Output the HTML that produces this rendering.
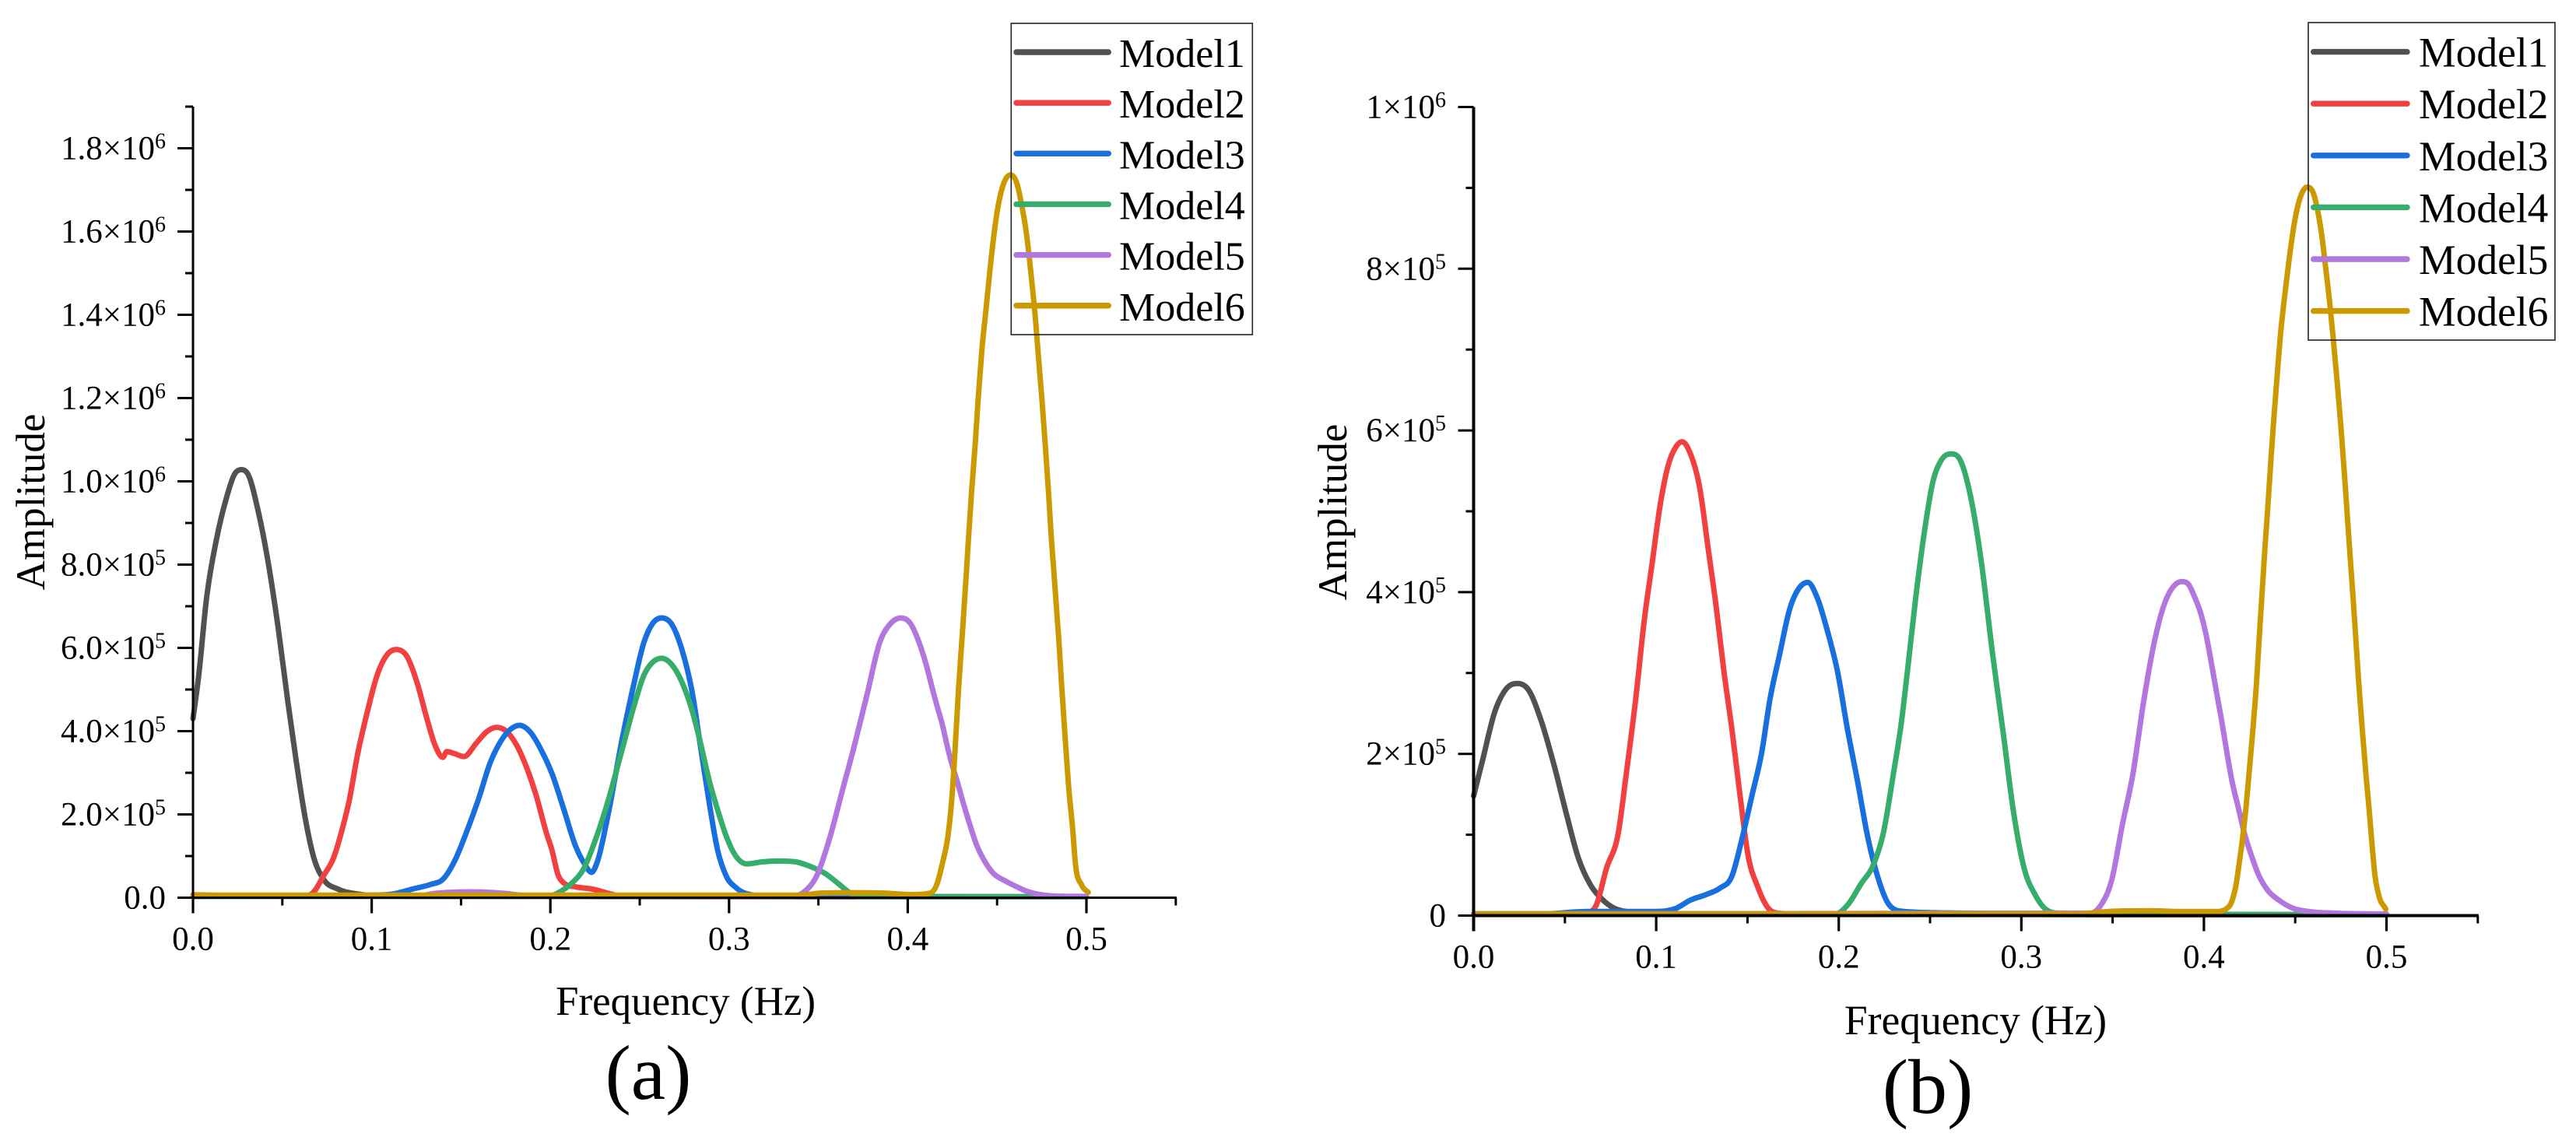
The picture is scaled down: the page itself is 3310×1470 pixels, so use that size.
<!DOCTYPE html>
<html lang="en">
<head>
<meta charset="utf-8">
<title>Frequency spectra of Model1–Model6</title>
<style>
html,body{margin:0;padding:0;background:#fff;}
svg{display:block;}
text{font-family:"Liberation Serif","Times New Roman",serif;fill:#000;}
</style>
</head>
<body>
<svg id="figure" xmlns="http://www.w3.org/2000/svg" width="3310" height="1470" viewBox="0 0 3310 1470">
  <rect x="0" y="0" width="3310" height="1470" fill="#fff"/>
  <g id="panel-a"></g>
  <g id="panel-b"></g>
  <text x="881" y="1304" font-size="53" text-anchor="middle">Frequency (Hz)</text>
  <text transform="translate(57,645) rotate(-90)" font-size="53" text-anchor="middle">Amplitude</text>
  <text x="833" y="1412" font-size="100" text-anchor="middle">(a)</text>
  <text x="2538.5" y="1329" font-size="53.5" text-anchor="middle">Frequency (Hz)</text>
  <text transform="translate(1730,658) rotate(-90)" font-size="53" text-anchor="middle">Amplitude</text>
  <text x="2477" y="1430" font-size="100" text-anchor="middle">(b)</text>
</svg>
<script>
/* Amplitudes are in units of 1e6; frequencies are in Hz. */
const seriesNames = ["Model1","Model2","Model3","Model4","Model5","Model6"];
const seriesColors = ["#515151","#F14040","#1A6FDF","#37AD6B","#B177DE","#CC9900"];

const xMajorTicks = [0,0.1,0.2,0.3,0.4,0.5];
const xMinorTicks = [0.05,0.15,0.25,0.35,0.45,0.55];
const xTickLabels = ["0.0","0.1","0.2","0.3","0.4","0.5"];

const yMajorTicksA = [0,0.2,0.4,0.6,0.8,1.0,1.2,1.4,1.6,1.8];
const yMinorTicksA = [0.1,0.3,0.5,0.7,0.9,1.1,1.3,1.5,1.7,1.9];
const yTickMantissaA = ["0.0","2.0","4.0","6.0","8.0","1.0","1.2","1.4","1.6","1.8"];
const yTickExponentA = ["","5","5","5","5","6","6","6","6","6"];

const yMajorTicksB = [0,0.2,0.4,0.6,0.8,1.0];
const yMinorTicksB = [0.1,0.3,0.5,0.7,0.9];
const yTickMantissaB = ["0","2","4","6","8","1"];
const yTickExponentB = ["","5","5","5","5","6"];

/* Panel (a) */
const freqA1 = [0,.0031,.0076,.0131,.0187,.0231,.0271,.0309,.0364,.042,.0476,.0531,.0576,.0631,.0676,.0731,.0809,.092,.0998,.13,.5];
const ampA1  = [.43,.53,.72,.86,.96,1.016,1.028,1.016,.93,.807,.65,.47,.333,.184,.096,.044,.021,.009,.005,.003,.002];

const freqA2 = [0,.03,.0631,.0676,.0731,.0787,.0831,.0876,.092,.0976,.1031,.1087,.1138,.1198,.1253,.1309,.1353,.1398,.142,.1464,.1516,.1587,.1642,.1698,.1753,.1809,.1864,.192,.1976,.2009,.2042,.2076,.2142,.2231,.232,.2409,.5];
const ampA2  = [.007,.004,.004,.014,.053,.096,.158,.237,.342,.447,.535,.584,.596,.579,.518,.43,.368,.337,.351,.346,.339,.372,.398,.409,.4,.368,.316,.246,.158,.114,.056,.035,.026,.021,.011,.003,.002];

const freqA3 = [0,.0476,.0998,.112,.1231,.1331,.1398,.1464,.1531,.1598,.1664,.172,.1776,.1827,.1887,.1953,.2009,.2076,.2142,.2187,.2231,.2264,.232,.2404,.2465,.2524,.2571,.2623,.2677,.2736,.2795,.2842,.2889,.2936,.2983,.3042,.3137,.3255,.5];
const ampA3  = [.003,.004,.006,.009,.021,.032,.044,.088,.158,.237,.325,.374,.404,.414,.398,.351,.298,.211,.123,.084,.061,.088,.193,.386,.509,.614,.658,.672,.658,.596,.49,.358,.228,.114,.053,.023,.006,.003,.002];

const freqA4 = [0,.1987,.2053,.212,.2187,.2253,.232,.2404,.2465,.2524,.2571,.2623,.2677,.2736,.2795,.2842,.2889,.2936,.2983,.303,.3101,.3184,.3278,.3373,.3455,.3538,.3608,.3679,.3726,.5];
const ampA4  = [.003,.003,.014,.035,.07,.14,.228,.36,.456,.535,.565,.575,.561,.518,.447,.368,.281,.211,.149,.105,.081,.086,.088,.086,.075,.058,.035,.011,.002,.002];

const freqA5 = [0,.125,.135,.145,.155,.165,.175,.185,.19,.3349,.342,.3491,.3561,.3632,.3703,.3774,.3844,.3903,.3962,.4016,.4059,.4103,.4139,.4161,.4197,.4219,.4241,.4277,.4313,.435,.4386,.443,.448,.4538,.4611,.4669,.4741,.4815,.5];
const ampA5  = [.005,.004,.01,.013,.014,.013,.01,.005,.003,.003,.014,.053,.14,.254,.368,.491,.614,.658,.672,.658,.618,.56,.5,.465,.41,.368,.33,.279,.224,.172,.126,.088,.058,.042,.026,.015,.0075,.004,.003];

const freqA6 = [0,.3396,.3514,.3679,.3868,.4016,.4125,.4161,.4197,.4226,.4248,.4265,.4284,.4306,.4328,.4338,.4357,.4379,.4393,.4415,.4437,.4459,.448,.4502,.4531,.4575,.4611,.4637,.4662,.4681,.4698,.4717,.4734,.4752,.477,.4788,.4804,.4815,.4827,.4846,.4862,.488,.4901,.4923,.4937,.4974,.501];
const ampA6  = [.006,.006,.011,.012,.011,.0075,.011,.03,.088,.151,.245,.357,.5,.637,.78,.849,.973,1.098,1.191,1.316,1.409,1.503,1.584,1.652,1.708,1.736,1.715,1.665,1.602,1.534,1.465,1.378,1.285,1.191,1.085,.973,.861,.799,.728,.616,.505,.39,.263,.165,.088,.03,.013];

/* Panel (b) */
const freqB1 = [0,.005,.0116,.0181,.0242,.0301,.0367,.0443,.0509,.0574,.064,.0705,.0771,.0836,.1,.13,.5];
const ampB1  = [.148,.193,.252,.281,.287,.279,.243,.184,.125,.071,.038,.02,.009,.005,.003,.002,.001];

const freqB2 = [0,.04,.0618,.0672,.0727,.0793,.0836,.0891,.0934,.0978,.1022,.1066,.1109,.1142,.1186,.124,.1284,.1328,.1371,.1415,.1459,.1502,.1557,.1611,.1666,.1797,.5];
const ampB2  = [.002,.002,.004,.013,.058,.103,.175,.274,.364,.436,.508,.557,.58,.586,.572,.527,.455,.383,.302,.23,.149,.076,.035,.01,.003,.002,.001];

const freqB3 = [0,.0378,.0618,.1,.1109,.1186,.1273,.1349,.1415,.1469,.1524,.1579,.1622,.1677,.1731,.1786,.183,.1884,.1939,.1993,.2048,.2103,.2157,.2212,.2277,.2365,.27,.31,.5];
const ampB3  = [.002,.002,.005,.005,.009,.019,.026,.034,.049,.094,.148,.203,.266,.324,.379,.406,.412,.392,.351,.302,.23,.166,.099,.049,.013,.005,.003,.002,.001];

const freqB4 = [0,.1983,.2048,.2124,.219,.2245,.2299,.2343,.2375,.2421,.2468,.2515,.2561,.2613,.2666,.2725,.2783,.2841,.29,.2958,.3016,.3075,.3133,.3215,.5];
const ampB4  = [.002,.002,.013,.04,.063,.103,.175,.239,.3,.392,.473,.536,.563,.571,.563,.515,.434,.326,.227,.127,.058,.026,.008,.003,.001];

const freqB5 = [0,.3378,.3436,.3495,.3553,.3611,.367,.3728,.3786,.3833,.3878,.3914,.3949,.3985,.4013,.4042,.407,.4098,.4127,.4155,.4191,.4219,.4262,.4298,.4347,.4411,.4489,.4575,.4717,.5];
const ampB5  = [.002,.003,.013,.044,.112,.175,.265,.338,.387,.407,.413,.41,.394,.372,.346,.311,.275,.24,.2,.165,.131,.104,.073,.051,.032,.019,.009,.005,.003,.002];

const freqB6 = [0,.3308,.3471,.3705,.3864,.4063,.412,.4155,.4176,.4194,.4212,.4231,.4248,.4269,.4288,.4302,.4316,.4333,.4354,.4368,.4383,.4404,.4418,.4439,.4461,.4482,.4503,.4532,.4567,.4603,.4628,.4648,.4667,.4688,.4709,.4731,.4752,.4773,.4795,.4816,.4831,.4847,.4866,.4887,.4905,.4922,.4936,.4958,.4996];
const ampB6  = [.002,.002,.005,.006,.005,.005,.008,.019,.038,.066,.096,.135,.178,.232,.288,.34,.39,.45,.519,.567,.615,.676,.715,.76,.801,.837,.866,.891,.901,.891,.866,.837,.801,.76,.712,.657,.6,.535,.463,.396,.346,.291,.234,.176,.131,.085,.051,.025,.008];

const SVGNS = "http://www.w3.org/2000/svg";

function make(tag, parent, props) {
  const el = document.createElementNS(SVGNS, tag);
  for (const k in props) el.setAttribute(k, props[k]);
  parent.appendChild(el);
  return el;
}

/* Monotone cubic path (Fritsch-Carlson limits) so near-zero tails do not overshoot. */
function monotonePath(px, py) {
  const n = px.length;
  const d = [], m = [];
  for (let i = 0; i < n - 1; i++) d.push((py[i + 1] - py[i]) / (px[i + 1] - px[i]));
  m.push(d[0]);
  for (let i = 1; i < n - 1; i++) {
    if (d[i - 1] * d[i] <= 0) { m.push(0); continue; }
    const h0 = px[i] - px[i - 1], h1 = px[i + 1] - px[i];
    const c = (d[i - 1] * h1 + d[i] * h0) / (h0 + h1);
    const lim = 3 * Math.min(Math.abs(d[i - 1]), Math.abs(d[i]));
    m.push(Math.sign(c) * Math.min(Math.abs(c), lim));
  }
  m.push(d[n - 2]);
  let s = "M" + px[0].toFixed(2) + " " + py[0].toFixed(2);
  for (let i = 0; i < n - 1; i++) {
    const h = (px[i + 1] - px[i]) / 3;
    s += "C" + (px[i] + h).toFixed(2) + " " + (py[i] + m[i] * h).toFixed(2) + " " +
         (px[i + 1] - h).toFixed(2) + " " + (py[i + 1] - m[i + 1] * h).toFixed(2) + " " +
         px[i + 1].toFixed(2) + " " + py[i + 1].toFixed(2);
  }
  return s;
}

function drawPanel(root, cfg) {
  const xScale = f => cfg.x0 + f * cfg.xPerHz;
  const yScale = v => cfg.y0 - v * cfg.yPerUnit;

  /* curves */
  cfg.freq.forEach((fr, i) => {
    const p = make("path", root, {
      d: monotonePath(fr.map(xScale), cfg.amp[i].map(yScale)),
      fill: "none",
      stroke: seriesColors[i],
      "stroke-width": 7,
      "stroke-linejoin": "round",
      "stroke-linecap": "round"
    });
    
    
  });

  /* axis lines */
  const yAxis = make("line", root, {x1: cfg.x0, x2: cfg.x0, y1: yScale(cfg.yMax), y2: cfg.y0 + 20, stroke: "#000", "stroke-width": cfg.axisW});
  
  
  const xAxis = make("line", root, {x1: cfg.x0, x2: xScale(0.55) + 1, y1: cfg.y0, y2: cfg.y0, stroke: "#000", "stroke-width": cfg.axisW});
  
  

  /* x ticks */
  xMajorTicks.forEach((f, i) => {
    const t = make("line", root, {x1: xScale(f), x2: xScale(f), y1: cfg.y0, y2: cfg.y0 + 20, stroke: "#000", "stroke-width": 3.2});
    
    
    const lab = make("text", root, {x: xScale(f), y: cfg.y0 + cfg.xLabelDy, "font-size": 43, "text-anchor": "middle"});
    lab.textContent = xTickLabels[i];
    
    
  });
  xMinorTicks.forEach(f => {
    const t = make("line", root, {x1: xScale(f), x2: xScale(f), y1: cfg.y0, y2: cfg.y0 + 10, stroke: "#000", "stroke-width": 3});
    
    
  });

  /* y ticks */
  cfg.yMajor.forEach((v, i) => {
    const t = make("line", root, {x1: cfg.x0, x2: cfg.x0 - 20, y1: yScale(v), y2: yScale(v), stroke: "#000", "stroke-width": 3});
    
    
    const lab = make("text", root, {x: cfg.yLabelX, y: yScale(v) + 14, "font-size": 43, "text-anchor": "end"});
    
    
    const exp = cfg.yExp[i];
    if (exp) {
      const a = make("tspan", lab, {});
      a.textContent = cfg.yMant[i] + "×10";
      const b = make("tspan", lab, {dy: -14, "font-size": 28});
      b.textContent = exp;
    } else {
      lab.textContent = cfg.yMant[i];
    }
  });
  cfg.yMinor.forEach(v => {
    const t = make("line", root, {x1: cfg.x0, x2: cfg.x0 - 10, y1: yScale(v), y2: yScale(v), stroke: "#000", "stroke-width": 3});
    
    
  });

  /* legend */
  const lg = cfg.legend;
  const box = make("rect", root, {x: lg.x, y: lg.y, width: lg.w, height: lg.h, fill: "none", stroke: "#222", "stroke-width": 1.6});
  
  
  seriesNames.forEach((name, i) => {
    const cy = lg.firstY + i * lg.stepY;
    const ln = make("line", root, {x1: lg.lineX1, x2: lg.lineX2, y1: cy, y2: cy, stroke: seriesColors[i], "stroke-width": 7.4, "stroke-linecap": "round"});
    
    
    const tx = make("text", root, {x: lg.textX, y: cy + 19, "font-size": lg.font});
    tx.textContent = name;
    
    
  });
}

drawPanel(document.getElementById("panel-a"), {
  x0: 248, xPerHz: 2296, y0: 1153.5, yPerUnit: 535, yMax: 1.9, axisW: 3, xLabelDy: 67, yLabelX: 213,
  freq: [freqA1, freqA2, freqA3, freqA4, freqA5, freqA6],
  amp: [ampA1, ampA2, ampA3, ampA4, ampA5, ampA6],
  yMajor: yMajorTicksA, yMinor: yMinorTicksA, yMant: yTickMantissaA, yExp: yTickExponentA,
  legend: {x: 1299.3, y: 30, w: 310, h: 400, firstY: 67, stepY: 65.15, lineX1: 1306, lineX2: 1424.3, textX: 1438, font: 52}
});

drawPanel(document.getElementById("panel-b"), {
  x0: 1893.5, xPerHz: 2346, y0: 1176.5, yPerUnit: 1039, yMax: 1.0, axisW: 4, xLabelDy: 67, yLabelX: 1858,
  freq: [freqB1, freqB2, freqB3, freqB4, freqB5, freqB6],
  amp: [ampB1, ampB2, ampB3, ampB4, ampB5, ampB6],
  yMajor: yMajorTicksB, yMinor: yMinorTicksB, yMant: yTickMantissaB, yExp: yTickExponentB,
  legend: {x: 2966, y: 29, w: 317, h: 408, firstY: 66.6, stepY: 66.6, lineX1: 2972.7, lineX2: 3093, textX: 3108, font: 53.5}
});
</script>
</body>
</html>
